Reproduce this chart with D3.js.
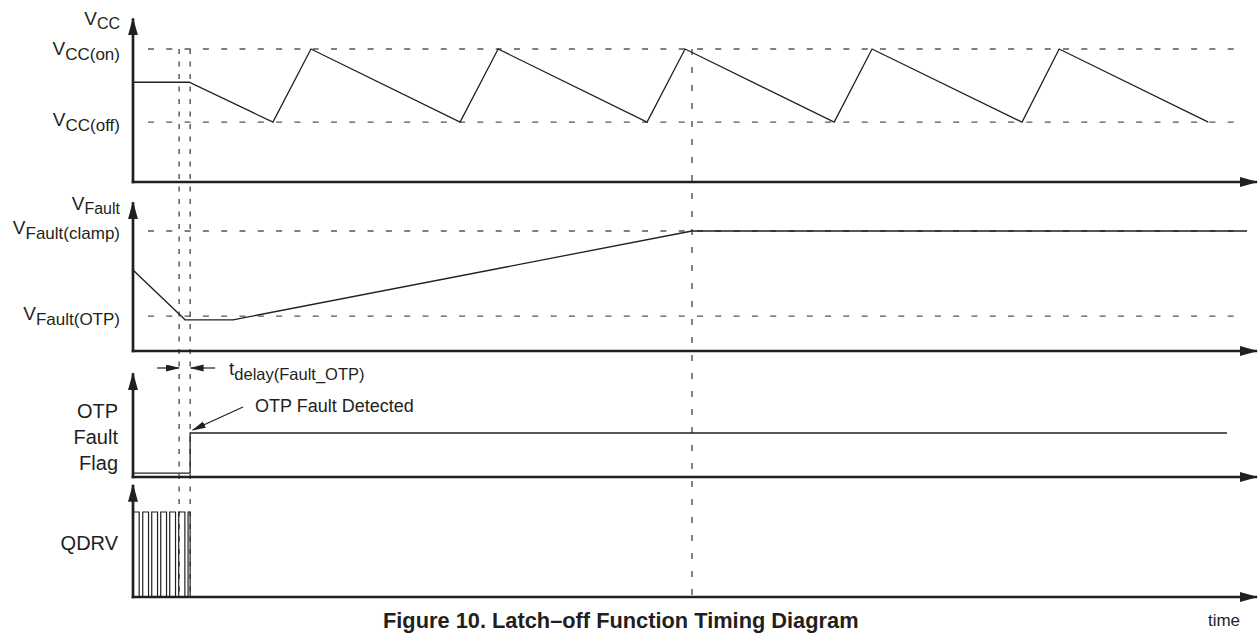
<!DOCTYPE html>
<html>
<head>
<meta charset="utf-8">
<script src="https://cdn.jsdelivr.net/npm/d3@7"></script>
<style>
  body { margin: 0; background: #fff; }
  svg { font-family: "Liberation Sans", Arial, Helvetica, sans-serif; fill: #231f20; }
</style>
</head>
<body>
<svg id="chart" width="1259" height="633"></svg>
<script>
// time in arbitrary units (0 .. 60)
const tMax = 60;
const tDelayStart = 2.46;   // fault seen on VFault
const tDetect = 3.05;       // end of tdelay(Fault_OTP)
const tClampHit = 29.84;    // VFault reaches clamp
const dashStart = 0.8, dashEnd = 58.9;

// VCC sawtooth (normalised, VCC(on) = 1)
const vccOn = 1, vccOff = 0.45;
const vccTimes  = [0, 3.0, 7.47, 9.5, 17.46, 19.49, 27.44, 29.47, 37.43, 39.45, 47.46, 49.44, 57.4];
const vccValues = [0.75, 0.75, 0.45, 1, 0.45, 1, 0.45, 1, 0.45, 1, 0.45, 1, 0.45];

// VFault (normalised, VFault(clamp) = 1)
const vfClamp = 1, vfOtp = 0.29;
const vfTimes  = [0, 2.78, 5.34, 29.84, 59.47];
const vfValues = [0.675, 0.26, 0.26, 1, 1];

// OTP fault flag
const flagTimes  = [0, 3.05, 3.05, 58.4];
const flagValues = [0.09, 0.09, 1, 1];

// QDRV switching pulses
const qdrvRise = [0.02, 0.52, 1.0, 1.48, 1.96, 2.44, 2.94];
const qdrvFall = [0.33, 0.83, 1.31, 1.79, 2.27, 2.77, 3.05];

const ink = '#231f20';
const svg = d3.select('#chart');
const x = d3.scaleLinear().domain([0, tMax]).range([133, 1257]);

// one y scale per panel: baseline -> 0, reference level -> 1
const panels = {
  vcc:  { y: d3.scaleLinear().domain([0, 1]).range([182, 49]),  top: 1.23 },
  vf:   { y: d3.scaleLinear().domain([0, 1]).range([351, 231]), top: 1.24 },
  flag: { y: d3.scaleLinear().domain([0, 1]).range([477, 433]), top: 2.36 },
  qdrv: { y: d3.scaleLinear().domain([0, 1]).range([597, 512]), top: 1.32 }
};

// arrow heads
const defs = svg.append('defs');
defs.append('marker').attr('id', 'axisHead')
  .attr('markerUnits', 'userSpaceOnUse').attr('orient', 'auto')
  .attr('markerWidth', 20).attr('markerHeight', 12)
  .attr('refX', 17).attr('refY', 5)
  .append('path').attr('d', 'M0,0 L18,5 L0,10 Z').attr('fill', ink);
defs.append('marker').attr('id', 'smallHead')
  .attr('markerUnits', 'userSpaceOnUse').attr('orient', 'auto')
  .attr('markerWidth', 15).attr('markerHeight', 8)
  .attr('refX', 13).attr('refY', 3.5)
  .append('path').attr('d', 'M0,0 L14,3.5 L0,7 Z').attr('fill', ink);

// threshold dashed lines
function hDash(p, level) {
  svg.append('line')
    .attr('x1', x(dashStart)).attr('x2', x(dashEnd))
    .attr('y1', p.y(level)).attr('y2', p.y(level))
    .attr('stroke', '#555').attr('stroke-width', 1.3)
    .attr('stroke-dasharray', '6,12.3');
}
hDash(panels.vcc, vccOn);
hDash(panels.vcc, vccOff);
hDash(panels.vf, vfClamp);
hDash(panels.vf, vfOtp);

// vertical time markers
[[tDelayStart, '5,7.5'], [tDetect, '5,7.5'], [tClampHit, '6,12']].forEach(([t, dash]) => {
  svg.append('line')
    .attr('x1', x(t)).attr('x2', x(t))
    .attr('y1', panels.vcc.y(vccOn)).attr('y2', panels.qdrv.y(0))
    .attr('stroke', ink).attr('stroke-width', 1.1)
    .attr('stroke-dasharray', dash);
});

// axes
Object.values(panels).forEach(p => {
  svg.append('line')
    .attr('x1', x(0)).attr('x2', x(0))
    .attr('y1', p.y(0) + 1.3).attr('y2', p.y(p.top))
    .attr('stroke', ink).attr('stroke-width', 2.7)
    .attr('marker-end', 'url(#axisHead)');
  svg.append('line')
    .attr('x1', x(0) - 1.3).attr('x2', x(tMax))
    .attr('y1', p.y(0)).attr('y2', p.y(0))
    .attr('stroke', ink).attr('stroke-width', 2.7)
    .attr('marker-end', 'url(#axisHead)');
});

// waveforms
function wave(p, ts, vs) {
  const line = d3.line().x(d => x(d[0])).y(d => p.y(d[1]));
  svg.append('path')
    .attr('d', line(d3.zip(ts, vs)))
    .attr('fill', 'none').attr('stroke', ink)
    .attr('stroke-width', 1.3).attr('stroke-linejoin', 'miter');
}
wave(panels.vcc, vccTimes, vccValues);
wave(panels.vf, vfTimes, vfValues);
wave(panels.flag, flagTimes, flagValues);

const qdrvPts = [];
qdrvRise.forEach((r, i) => {
  qdrvPts.push([r, 0], [r, 1], [qdrvFall[i], 1], [qdrvFall[i], 0]);
});
svg.append('path')
  .attr('d', d3.line().x(d => x(d[0])).y(d => panels.qdrv.y(d[1]))(qdrvPts))
  .attr('fill', 'none').attr('stroke', ink).attr('stroke-width', 1.2);

// labels with subscripts
function subLabel(px, py, main, sub, opt = {}) {
  const size = opt.size || 19, subSize = opt.subSize || 17, shift = opt.shift || 5;
  const t = svg.append('text')
    .attr('x', px).attr('y', py)
    .attr('text-anchor', opt.anchor || 'end')
    .attr('font-size', size).attr('fill', ink);
  t.append('tspan').text(main);
  t.append('tspan').attr('dy', shift).attr('font-size', subSize).text(sub);
}
const labelX = 120;
subLabel(labelX, panels.vcc.y(panels.vcc.top) + 7, 'V', 'CC', { shift: 4, subSize: 16 });
subLabel(labelX, panels.vcc.y(vccOn) + 6, 'V', 'CC(on)');
subLabel(labelX, panels.vcc.y(vccOff) + 4, 'V', 'CC(off)');
subLabel(labelX, panels.vf.y(panels.vf.top) + 8, 'V', 'Fault', { shift: 4, subSize: 16 });
subLabel(labelX, panels.vf.y(vfClamp) + 3, 'V', 'Fault(clamp)');
subLabel(labelX, panels.vf.y(vfOtp) + 4, 'V', 'Fault(OTP)');

const flagLabel = svg.append('text')
  .attr('text-anchor', 'end').attr('font-size', 20).attr('fill', ink);
['OTP', 'Fault', 'Flag'].forEach((w, i) => {
  flagLabel.append('tspan').attr('x', 118).attr('y', 418 + i * 26).text(w);
});
svg.append('text').attr('x', 118).attr('y', 550)
  .attr('text-anchor', 'end').attr('font-size', 20).attr('fill', ink).text('QDRV');

// tdelay(Fault_OTP) annotation
const tdY = 368;
svg.append('line').attr('x1', x(tDelayStart) - 22).attr('x2', x(tDelayStart))
  .attr('y1', tdY).attr('y2', tdY).attr('stroke', ink).attr('stroke-width', 1.2)
  .attr('marker-end', 'url(#smallHead)');
svg.append('line').attr('x1', x(tDetect) + 25).attr('x2', x(tDetect) + 0.5)
  .attr('y1', tdY).attr('y2', tdY).attr('stroke', ink).attr('stroke-width', 1.2)
  .attr('marker-end', 'url(#smallHead)');
subLabel(229, 375, 't', 'delay(Fault_OTP)', { anchor: 'start', subSize: 16.5, shift: 5 });

// OTP Fault Detected callout
svg.append('line')
  .attr('x1', 243).attr('y1', 407)
  .attr('x2', x(tDetect) + 2.5).attr('y2', panels.flag.y(1) - 3)
  .attr('stroke', ink).attr('stroke-width', 1.2)
  .attr('marker-end', 'url(#smallHead)');
svg.append('text').attr('x', 255).attr('y', 412)
  .attr('font-size', 18).attr('fill', ink).text('OTP Fault Detected');

// time label and caption
svg.append('text').attr('x', 1224).attr('y', 626)
  .attr('text-anchor', 'middle').attr('font-size', 17)
  .attr('font-family', '"Liberation Sans Narrow", "Liberation Sans", Arial, sans-serif')
  .attr('fill', ink).text('time');
svg.append('text').attr('x', 383).attr('y', 628)
  .attr('font-size', 21.8).attr('font-weight', 'bold').attr('fill', ink)
  .text('Figure 10. Latch\u2013off Function Timing Diagram');
</script>
</body>
</html>
